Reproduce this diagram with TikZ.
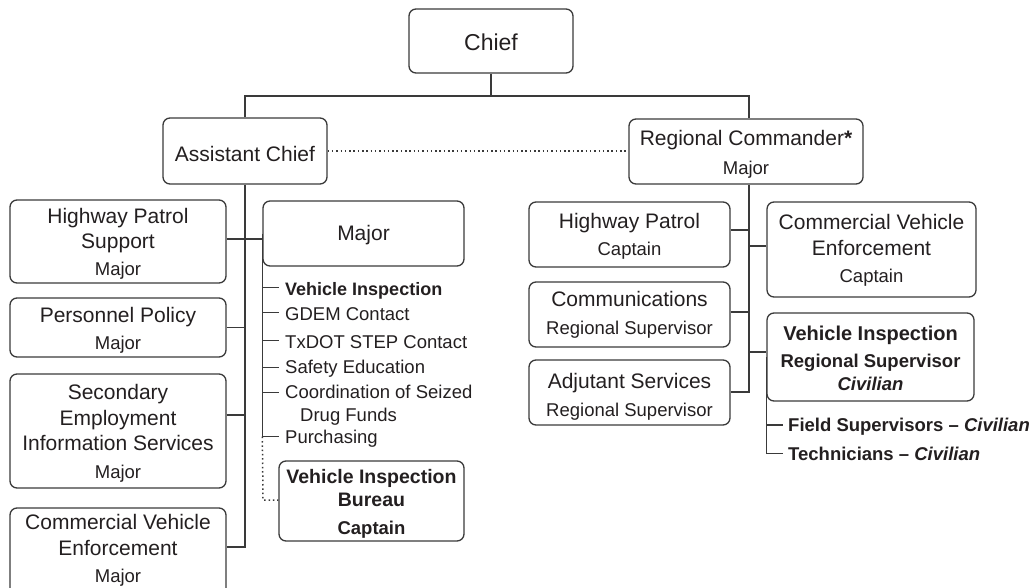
\documentclass[tikz,border=0pt]{standalone}
\usepackage{fontspec}
\setmainfont{Liberation Sans}
\definecolor{txt}{HTML}{231F20}
\definecolor{ln}{HTML}{3A3A3A}
\begin{document}
\begin{tikzpicture}[x=1pt,y=-1pt,
  box/.style={draw=ln, line width=1.3pt, rounded corners=7pt, inner sep=0pt},
  conn/.style={draw=ln, line width=1.3pt},
  dotline/.style={draw=ln, line width=1.5pt, dash pattern=on 1.5pt off 2.8pt},
  tx/.style={anchor=base, inner sep=0pt, text=txt},
  chieffont/.style={tx, font=\fontsize{23}{27}\selectfont},
  big/.style={tx, font=\fontsize{21}{25}\selectfont},
  sub/.style={tx, font=\fontsize{18.5}{22}\selectfont},
  item/.style={tx, anchor=base west, font=\fontsize{18.5}{22}\selectfont},
  bitem/.style={tx, anchor=base west, font=\fontsize{18}{22}\selectfont\bfseries},
  btitle/.style={tx, font=\fontsize{20}{24}\selectfont\bfseries},
  bsub/.style={tx, font=\fontsize{18.5}{22}\selectfont\bfseries},
]
\useasboundingbox (0,0) rectangle (1032,588);
\clip (0,0) rectangle (1032,588);

% ---------- boxes ----------
\node[box, minimum width=164pt, minimum height=64pt] (chief) at (491,41) {};
\node[box, minimum width=164pt, minimum height=66pt] (ac) at (245,151) {};
\node[box, minimum width=234pt, minimum height=65pt] (rc) at (746,151.5) {};
\node[box, minimum width=216pt, minimum height=83pt] (hps) at (118,241.5) {};
\node[box, minimum width=216pt, minimum height=59pt] (pp) at (118,327.5) {};
\node[box, minimum width=216pt, minimum height=114pt] (se) at (118,431) {};
\node[box, minimum width=216pt, minimum height=102pt] (cvel) at (118,559) {};
\node[box, minimum width=201pt, minimum height=65pt] (major) at (363.5,233.5) {};
\node[box, minimum width=185pt, minimum height=80pt] (vib) at (371.5,501) {};
\node[box, minimum width=201pt, minimum height=65pt] (hp) at (629.5,234.5) {};
\node[box, minimum width=201pt, minimum height=65pt] (comm) at (629.5,314.5) {};
\node[box, minimum width=201pt, minimum height=65pt] (adj) at (629.5,392.5) {};
\node[box, minimum width=209pt, minimum height=95pt] (cver) at (871.5,249.5) {};
\node[box, minimum width=207pt, minimum height=88pt] (vir) at (870.5,357) {};

% ---------- box texts ----------
\node[chieffont] (tchief) at (491,50.5) {Chief};
\node[big] (tac) at (245,161) {Assistant Chief};
\node[big] (trc1) at (746,146) {Regional Commander{\bfseries *}};
\node[sub] (trc2) at (746,175) {Major};

\node[big] (thps1) at (118,223.3) {Highway Patrol};
\node[big] (thps2) at (118,248.3) {Support};
\node[sub] (thps3) at (118,275) {Major};

\node[big] (tpp1) at (118,322.3) {Personnel Policy};
\node[sub] (tpp2) at (118,349.3) {Major};

\node[big] (tse1) at (118,399.3) {Secondary};
\node[big] (tse2) at (118,425) {Employment};
\node[big] (tse3) at (118,450) {Information Services};
\node[sub] (tse4) at (118,478.3) {Major};

\node[big] (tcv1) at (118,529) {Commercial Vehicle};
\node[big] (tcv2) at (118,555) {Enforcement};
\node[sub] (tcv3) at (118,582) {Major};

\node[big] (tmaj) at (363.5,240.7) {Major};

\node[tx, font=\fontsize{19.5}{23}\selectfont\bfseries] (tvib1) at (371.5,483.3) {Vehicle Inspection};
\node[tx, font=\fontsize{19.5}{23}\selectfont\bfseries] (tvib2) at (371.5,506.7) {Bureau};
\node[bsub] (tvib3) at (371.5,534) {Captain};

\node[big] (thp1) at (629.5,228.3) {Highway Patrol};
\node[sub] (thp2) at (629.5,255) {Captain};
\node[big] (tcm1) at (629.5,306.7) {Communications};
\node[sub] (tcm2) at (629.5,334.3) {Regional Supervisor};
\node[big] (tad1) at (629.5,388.3) {Adjutant Services};
\node[sub] (tad2) at (629.5,416) {Regional Supervisor};

\node[big] (tcr1) at (871.5,229.3) {Commercial Vehicle};
\node[big] (tcr2) at (871.5,255) {Enforcement};
\node[sub] (tcr3) at (871.5,282.7) {Captain};

\node[btitle] (tvr1) at (870.5,340) {Vehicle Inspection};
\node[bsub] (tvr2) at (870.5,367.7) {Regional Supervisor};
\node[bsub] (tvr3) at (870.5,390) {\itshape Civilian};

% ---------- list under Major ----------
\node[bitem] (li1) at (285,295.7) {Vehicle Inspection};
\node[item] (li2) at (285,320.7) {GDEM Contact};
\node[item] (li3) at (285,348.3) {TxDOT STEP Contact};
\node[item] (li4) at (285,373.3) {Safety Education};
\node[item] (li5) at (285,398.3) {Coordination of Seized};
\node[item] (li5b) at (300,421.7) {Drug Funds};
\node[item] (li6) at (285,443.3) {Purchasing};

% ---------- list under Vehicle Inspection (right) ----------
\node[tx, anchor=base west, font=\fontsize{18.5}{22}\selectfont\bfseries] (fs) at (788,431.7) {Field Supervisors -- \itshape Civilian};
\node[tx, anchor=base west, font=\fontsize{18.5}{22}\selectfont\bfseries] (tec) at (788,460.5) {Technicians -- \itshape Civilian};

% ---------- connectors ----------
\coordinate (busL) at (245,96);
\coordinate (busR) at (749,96);
\draw[conn] (chief.south) -- (chief.south |- busL);
\draw[conn] (ac.north) -- (busL) -- (busR) -- (busR |- rc.north);
\draw[dotline] (ac.east) -- (ac.east -| rc.west);

% left spine
\coordinate (acEnd) at (245,547);
\coordinate (y1) at (245,239);
\coordinate (y3) at (245,415);
\draw[conn] (ac.south) -- (acEnd) -- (acEnd -| cvel.east);
\draw[conn] (hps.east |- y1) -- (major.west |- y1);
\draw[conn] (pp.east) -- (pp.east -| ac.south);
\draw[conn] (se.east |- y3) -- (y3);

% Major list spine
\coordinate (k1) at (279,287.7);
\coordinate (k2) at (279,312.3);
\coordinate (k3) at (279,340.7);
\coordinate (k4) at (279,367.3);
\coordinate (k5) at (279,392.3);
\coordinate (k6) at (279,436.7);
\coordinate (dd) at (263,500);
\draw[conn] (major.west) -- (major.west |- k6) -- (k6);
\draw[conn] (major.west |- k1) -- (k1);
\draw[conn] (major.west |- k2) -- (k2);
\draw[conn] (major.west |- k3) -- (k3);
\draw[conn] (major.west |- k4) -- (k4);
\draw[conn] (major.west |- k5) -- (k5);
\draw[dotline] (major.west |- k6) -- (dd) -- (vib.west |- dd);

% right spine
\coordinate (rEnd) at (749,392);
\coordinate (r1) at (749,230);
\coordinate (r2) at (749,312);
\coordinate (r3) at (749,246);
\coordinate (r4) at (749,352);
\draw[conn] (busR |- rc.south) -- (rEnd) -- (rEnd -| adj.east);
\draw[conn] (hp.east |- r1) -- (r1);
\draw[conn] (comm.east |- r2) -- (r2);
\draw[conn] (r3) -- (r3 -| cver.west);
\draw[conn] (r4) -- (r4 -| vir.west);

% Vehicle Inspection (right) spine
\coordinate (f1) at (783,425);
\coordinate (f2) at (783,453.3);
\draw[conn] (vir.west) -- (vir.west |- f2) -- (f2);
\draw[conn] (vir.west |- f1) -- (f1);
\end{tikzpicture}
\end{document}
